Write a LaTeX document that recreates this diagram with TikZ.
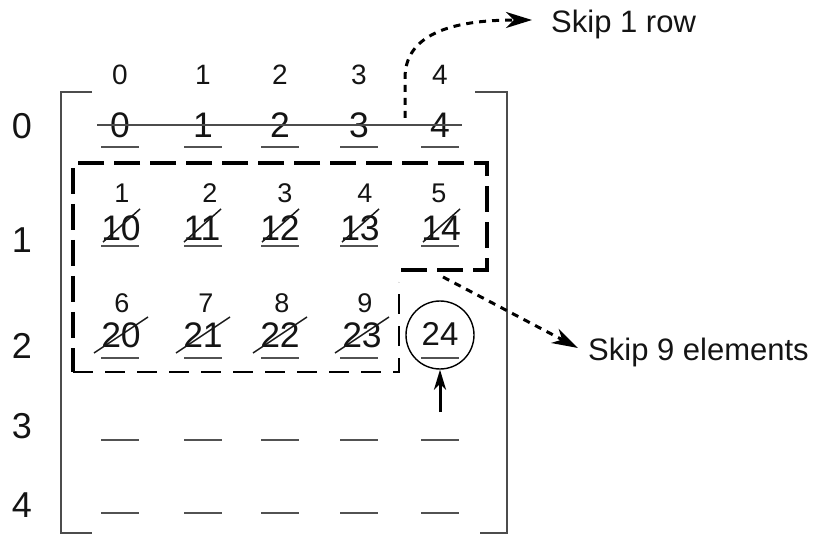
\documentclass[tikz,border=0pt]{standalone}
\usepackage{fontspec}
\setmainfont{Liberation Sans}
\usetikzlibrary{arrows.meta}
\begin{document}
\begin{tikzpicture}[x=1pt,y=-1pt,
  txt/.style={inner sep=0pt, text=black!92},
  hdr/.style={txt, font=\fontsize{28}{30}\selectfont},
  rowlbl/.style={txt, font=\fontsize{36}{38}\selectfont},
  cell/.style={txt, font=\fontsize{35.5}{38}\selectfont},
  idx/.style={txt, font=\fontsize{27}{29}\selectfont},
  note/.style={txt, font=\fontsize{31}{34}\selectfont, anchor=base west},
  uline/.style={draw=black!68, line width=2.4pt},
  strike/.style={draw=black!90, line width=1.5pt},
  frame/.style={draw=black!70, line width=2pt},
  boxthick/.style={draw=black, line width=3.2pt, dash pattern=on 26pt off 10pt},
  boxthin/.style={draw=black, line width=2.4pt, dash pattern=on 20pt off 12pt},
  skiparrow/.style={draw=black, line width=3pt, dash pattern=on 7pt off 6pt,
    -{Stealth[length=26pt,width=16pt,inset=8pt]}},
  uparrow/.style={draw=black, line width=3pt, -{Stealth[length=20pt,width=12pt,inset=6pt]}}
]
\useasboundingbox (0,0) rectangle (816,534);

% row indices on the left
\foreach \r/\y in {0/126,1/240,2/346,3/426,4/505}
  \node[rowlbl] (r\r) at (22,\y) {\r};

% column indices on top
\foreach \c/\x in {0/120,1/203,2/280,3/359,4/440}
  \node[hdr] (h\c) at (\x,75) {\c};

% matrix brackets
\draw[frame] (92,92) -- (61,92) -- (61,533) -- (92,533);
\draw[frame] (475,92) -- (507,92) -- (507,533) -- (480,533);

% row 0: skipped as a whole
\foreach \c/\x in {0/120,1/203,2/280,3/359,4/440}
  \node[cell] (e0\c) at (\x,125) {\c};
\draw[draw=black!70, line width=2pt] (97,125) -- (462,125);

% row 1: elements 10..14, each crossed out, with running count
\foreach \c/\x/\sx/\n in {0/121/122/1,1/202/210/2,2/280/285/3,3/360/365/4,4/441/439/5}{
  \node[cell] (e1\c) at (\x,228) {1\c};
  \node[idx] (k1\c) at (\sx,193) {\n};
  \draw[strike] (e1\c.center) ++(-18,14) -- ++(37,-33);
}

% row 2: elements 20..23 crossed out, 24 is the target
\foreach \c/\x/\sx/\n in {0/121/122/6,1/203/206/7,2/280/282/8,3/362/365/9}{
  \node[cell] (e2\c) at (\x,335) {2\c};
  \node[idx] (k2\c) at (\sx,303) {\n};
  \draw[strike] (e2\c.center) ++(-27,18) -- ++(54,-36);
}
\node[txt, font=\fontsize{33}{35}\selectfont] (e24) at (440,334) {24};
\node[circle, draw=black, line width=1.4pt, minimum size=68pt, inner sep=0pt] (ring) at (440,335) {};

% slot underlines
\foreach \y in {147,246,358,440,513}
  \foreach \x in {120,203,280,359,440}
    \draw[uline] (\x-19,\y) -- (\x+19,\y);

% dashed outline of the skipped elements
\draw[boxthick] (401,270) -- (487,270) -- (487,163) -- (73,163) -- (73,372);
\draw[boxthin] (73,372) -- (399,372) -- (399,282);

% annotations
\node[note] (n1) at (551,33) {Skip 1 row};
\node[note] (n9) at (588,360) {Skip 9 elements};

\coordinate (s1a) at (405,118);
\coordinate (s1b) at (532,20);
\coordinate (s9a) at (443,277);
\coordinate (s9b) at (578,348);
\coordinate (up) at (440,412);

\draw[skiparrow] (s1a) -- (405,78) .. controls (405,35) and (450,20) .. (s1b);
\draw[skiparrow] (s9a) -- (s9b);
\draw[uparrow] (up) -- (ring.south);
\end{tikzpicture}
\end{document}
